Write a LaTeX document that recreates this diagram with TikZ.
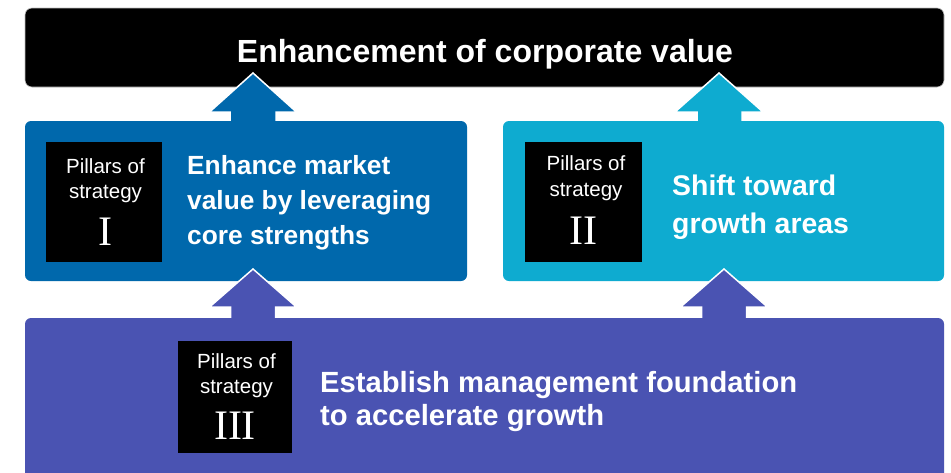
\documentclass[tikz,border=0pt]{standalone}
\usepackage{fontspec}
\setmainfont{Liberation Sans}
\newfontfamily\romanfont{Liberation Serif}
\definecolor{cblue}{RGB}{0,104,172}
\definecolor{ccyan}{RGB}{14,171,208}
\definecolor{cpurple}{RGB}{74,83,178}
\begin{document}
\begin{tikzpicture}[x=1pt,y=-1pt,
  panel/.style={rectangle, rounded corners=6pt, inner sep=0pt, outer sep=0pt},
  pillar/.style={rectangle, fill=black, inner sep=0pt, minimum width=116pt, minimum height=120pt},
  headtxt/.style={text=white, font=\bfseries, anchor=base west, inner sep=0pt},
  smalltxt/.style={text=white, font=\fontsize{20.5}{24}\selectfont, anchor=base, inner sep=0pt},
  numtxt/.style={text=white, font=\romanfont\fontsize{42}{42}\selectfont, anchor=base, inner sep=0pt},
  bigarrow/.style={draw=white, line width=1.5pt, line join=miter}]
\clip (0,0) rectangle (951,472);
\fill[white] (0,0) rectangle (951,472);
% top box
\node[panel, fill=black, draw=gray!50, line width=0.6pt, rounded corners=7pt,
      minimum width=919pt, minimum height=79pt] (top) at (484.5,47.5) {};
\node[text=white, font=\bfseries\fontsize{32}{36}\selectfont, anchor=base, inner sep=0pt] (toptxt) at (485,62) {Enhancement of corporate value};
% arrows from middle boxes to top
\coordinate (t1) at (253,73);
\coordinate (t2) at (719,73);
\fill[cblue, bigarrow] (t1) -- ++(43.5,39) -- ++(-20.5,0) -- ++(0,18) -- ++(-46,0) -- ++(0,-18) -- ++(-20.5,0) -- cycle;
\fill[ccyan, bigarrow] (t2) -- ++(44,39) -- ++(-21,0) -- ++(0,18) -- ++(-45,0) -- ++(0,-18) -- ++(-22,0) -- cycle;
% middle boxes
\node[panel, fill=cblue, minimum width=442pt, minimum height=160pt] (left) at (246,201) {};
\node[panel, fill=ccyan, minimum width=441pt, minimum height=160pt] (right) at (723.5,201) {};
% arrows from bottom box
\coordinate (t3) at (253,269);
\coordinate (t4) at (724,269);
\fill[cpurple, bigarrow] (t3) -- ++(43.5,38) -- ++(-21,0) -- ++(0,18) -- ++(-45,0) -- ++(0,-18) -- ++(-21,0) -- cycle;
\fill[cpurple, bigarrow] (t4) -- ++(43.5,38) -- ++(-21,0) -- ++(0,18) -- ++(-45,0) -- ++(0,-18) -- ++(-21,0) -- cycle;
% bottom box
\node[panel, fill=cpurple, minimum width=919pt, minimum height=170pt] (bottom) at (484.5,403) {};
% pillar I
\node[pillar] (p1) at (104,202) {};
\node[smalltxt] (p1a) at (105.5,173) {Pillars of};
\node[smalltxt] (p1b) at (105.5,198.5) {strategy};
\node[numtxt] (p1c) at (105,245) {I};
\node[headtxt, font=\bfseries\fontsize{26.3}{30}\selectfont] (l1) at (187,174) {Enhance market};
\node[headtxt, font=\bfseries\fontsize{26.3}{30}\selectfont] (l2) at (187,209.5) {value by leveraging};
\node[headtxt, font=\bfseries\fontsize{26.3}{30}\selectfont] (l3) at (187,244.5) {core strengths};
% pillar II
\node[pillar, minimum width=117pt] (p2) at (583.5,202) {};
\node[smalltxt] (p2a) at (586,170) {Pillars of};
\node[smalltxt] (p2b) at (586,196) {strategy};
\node[numtxt] (p2c) at (583.5,244) {II};
\node[headtxt, font=\bfseries\fontsize{28.4}{32}\selectfont] (r1) at (672,195) {Shift toward};
\node[headtxt, font=\bfseries\fontsize{28.4}{32}\selectfont] (r2) at (672,233) {growth areas};
% pillar III
\node[pillar, minimum width=114pt, minimum height=112pt] (p3) at (235,397) {};
\node[smalltxt] (p3a) at (236.5,368) {Pillars of};
\node[smalltxt] (p3b) at (236.5,393) {strategy};
\node[numtxt] (p3c) at (235,439) {III};
\node[headtxt, font=\bfseries\fontsize{29.2}{33}\selectfont] (b1) at (320,392) {Establish management foundation};
\node[headtxt, font=\bfseries\fontsize{29.2}{33}\selectfont] (b2) at (320,425.5) {to accelerate growth};
\end{tikzpicture}
\end{document}
